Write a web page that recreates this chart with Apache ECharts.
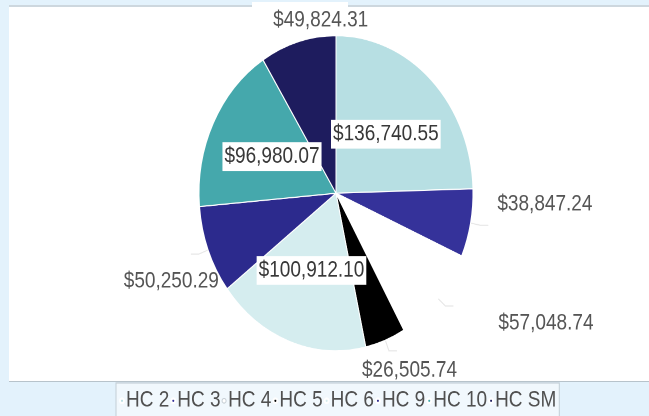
<!DOCTYPE html>
<html>
<head>
<meta charset="utf-8">
<script src="https://cdn.jsdelivr.net/npm/echarts@6/dist/echarts.min.js"></script>
<style>
  html, body { margin: 0; padding: 0; background: #e3f2fc; }
  body { width: 649px; height: 416px; position: relative; overflow: hidden; }
  #panel { position: absolute; left: 9px; top: 5px; width: 640px; height: 374px; background: #fff; border-top: 2px solid #cdd7de; border-bottom: 1px solid #b7c3cb; }
  #notch { position: absolute; left: 252px; top: 2px; width: 96px; height: 8px; background: #fff; }
  #chart { position: absolute; left: 0; top: 0; width: 649px; height: 362px; transform: scaleY(1.15); transform-origin: 0 0; }
</style>
</head>
<body>
<div id="panel"></div>
<div id="notch"></div>
<div id="chart"></div>
<script>
var categories = ['HC 2', 'HC 3', 'HC 4', 'HC 5', 'HC 6', 'HC 9', 'HC 10', 'HC SM']
var amounts = [136740.55, 38847.24, 57048.74, 26505.74, 100912.10, 50250.29, 96980.07, 49824.31]
var colors = ['#b7dfe3', '#35329a', '#ffffff', '#000000', '#d5edef', '#2c2a8d', '#45a8ac', '#1e1c5e']
// these slices carry their label inside, on a white box
var insideNames = ['HC 2', 'HC 6', 'HC 10']
// small nudges of the outside labels, to sit them like the original tool did
var labelNudge = {
  'HC 3': [4, -18],
  'HC 4': [40, 15],
  'HC 5': [-40, 17],
  'HC 9': [33, 24],
  'HC SM': [86, -9]
}

var font = '"Liberation Sans", Arial, sans-serif'

function money(v) {
  return '$' + v.toLocaleString('en-US', { minimumFractionDigits: 2, maximumFractionDigits: 2 })
}

var chart = echarts.init(document.getElementById('chart'), null, { devicePixelRatio: 2 })

var pieData = categories.map(function (name, i) {
  var item = { name: name, value: amounts[i], itemStyle: { color: colors[i] } }
  if (insideNames.indexOf(name) >= 0) {
    item.label = { position: 'inside', backgroundColor: '#fff', padding: [3, 2], color: '#383838' }
    item.labelLine = { show: false }
  }
  if (name === 'HC SM') {
    item.labelLine = { show: false }
  }
  return item
})

chart.setOption({
  animation: false,
  legend: {
    data: categories.map(function (name, i) {
      // the white slice still gets a faint ring in the legend
      return name === 'HC 4' ? { name: name, itemStyle: { borderColor: '#c8d0d6', borderWidth: 1 } } : name
    }),
    left: 116,
    top: 333,
    icon: 'circle',
    itemWidth: 4,
    itemHeight: 4,
    itemGap: 1,
    padding: [6, 3, 12, 3],
    backgroundColor: '#f1f8fd',
    borderColor: '#c3ced6',
    borderWidth: 1,
    selectedMode: false,
    textStyle: { fontSize: 19, color: '#505050', fontFamily: font, padding: [0, 0, 0, -3] }
  },
  series: [
    {
      type: 'pie',
      center: [336, 168],
      radius: 137,
      startAngle: 90,
      clockwise: true,
      avoidLabelOverlap: false,
      itemStyle: { borderColor: '#fff', borderWidth: 1 },
      label: {
        position: 'outside',
        fontSize: 19,
        fontFamily: font,
        color: '#555',
        formatter: function (p) { return money(p.value) }
      },
      labelLine: {
        show: true,
        length: 10,
        length2: 8,
        lineStyle: { color: '#e6e6e6', width: 1 }
      },
      labelLayout: function (p) {
        var n = labelNudge[categories[p.dataIndex]]
        return n ? { dx: n[0], dy: n[1] } : {}
      },
      emphasis: { disabled: true },
      data: pieData
    }
  ]
})
</script>
</body>
</html>
